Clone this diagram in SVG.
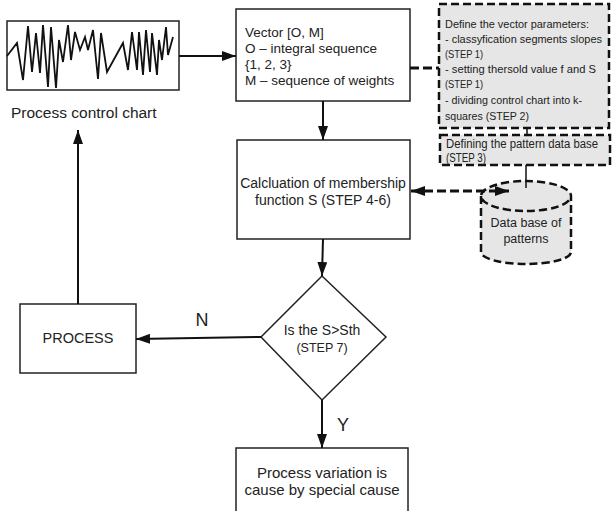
<svg xmlns="http://www.w3.org/2000/svg" width="612" height="511" viewBox="0 0 612 511">
<defs>
<marker id="ahs" markerWidth="14" markerHeight="10" viewBox="0 0 14 10" refX="14" refY="5" orient="auto-start-reverse" markerUnits="userSpaceOnUse">
<path d="M0,0 L14,5 L0,10 z" fill="#111"/>
</marker>
<style>
.box{fill:#fff;stroke:#222;stroke-width:1.5}
.dbox{fill:#e6e6e6;stroke:#111;stroke-width:2.5;stroke-dasharray:8,4}
.t{font-family:"Liberation Sans",Arial,sans-serif;fill:#222}
.ln{fill:none;stroke:#111;stroke-width:2}
</style>
</defs>
<g id="chart">
<rect x="7" y="21" width="172" height="69" class="box"/>
<polyline fill="none" stroke="#111" stroke-width="1.8" points="7,56 17,43 23,80 28,26 32,72 36,33 40,73 43,25 48,87 51,27 56,88 59,40 63,62 68,25 71,60 75,32 80,50 85,37 88,50 93,30 98,79 101,33 107,72 123,43 128,70 132,32 137,70 139,32 143,75 146,30 150,72 152,33 157,75 159,40 162,60 166,27 168,55 173,37"/>
<text class="t" x="11" y="118" font-size="15.5">Process control chart</text>
</g>
<g id="vector">
<rect x="236" y="9" width="174" height="92" class="box"/>
<text class="t" font-size="13.5"><tspan x="245" y="37">Vector [O, M]</tspan><tspan x="245" y="53">O – integral sequence</tspan><tspan x="245" y="69">{1, 2, 3}</tspan><tspan x="245" y="85">M – sequence of weights</tspan></text>
</g>
<g id="define">
<rect x="439" y="4" width="170" height="124" class="dbox"/>
<g class="t" font-size="11.5">
<text x="445" y="28" textLength="144" lengthAdjust="spacingAndGlyphs">Define the vector parameters:</text>
<text x="445" y="43" textLength="157" lengthAdjust="spacingAndGlyphs">- classyfication segments slopes</text>
<text x="445" y="58" textLength="38" lengthAdjust="spacingAndGlyphs">(STEP 1)</text>
<text x="445" y="73" textLength="151" lengthAdjust="spacingAndGlyphs">- setting thersold value f and S</text>
<text x="445" y="88" textLength="38" lengthAdjust="spacingAndGlyphs">(STEP 1)</text>
<text x="445" y="104" textLength="137" lengthAdjust="spacingAndGlyphs">- dividing control chart into k-</text>
<text x="445" y="120" textLength="84" lengthAdjust="spacingAndGlyphs">squares (STEP 2)</text>
</g>
</g>
<g id="patterndb">
<rect x="440" y="135" width="170" height="30" class="dbox"/>
<g class="t" font-size="12.5">
<text x="446" y="148" textLength="152" lengthAdjust="spacingAndGlyphs">Defining the pattern data base</text>
<text x="446" y="162" textLength="40" lengthAdjust="spacingAndGlyphs">(STEP 3)</text>
</g>
</g>
<g id="database">
<path d="M481,196 L481,252 A45,12 0 0 0 571,252 L571,196 A45,15 0 0 0 481,196 A45,15 0 0 0 571,196" class="dbox"/>
<text class="t" font-size="12.5" text-anchor="middle"><tspan x="526" y="227">Data base of</tspan><tspan x="526" y="243">patterns</tspan></text>
</g>
<g id="calc">
<rect x="237" y="140" width="173" height="99" class="box"/>
<text class="t" font-size="14" text-anchor="middle"><tspan x="323" y="188">Calcluation of membership</tspan><tspan x="323" y="205">function S  (STEP 4-6)</tspan></text>
</g>
<g id="decision">
<polygon points="322,276 386,337 322,400 261,337" class="box" stroke-width="1.2"/>
<text class="t" font-size="14" text-anchor="middle"><tspan x="322" y="335">Is the S&gt;Sth</tspan><tspan x="322" y="352" font-size="12.5">(STEP 7)</tspan></text>
</g>
<g id="process">
<rect x="20" y="304" width="116" height="69" class="box"/>
<text class="t" x="78" y="343" font-size="14.5" text-anchor="middle">PROCESS</text>
</g>
<g id="result">
<rect x="236" y="448" width="172" height="70" class="box"/>
<text class="t" font-size="15" text-anchor="middle"><tspan x="322" y="478">Process variation is</tspan><tspan x="322" y="495">cause by special cause</tspan></text>
</g>
<g id="connectors">
<line x1="179" y1="56" x2="236" y2="56" class="ln" marker-end="url(#ahs)"/>
<line x1="323" y1="101" x2="323" y2="140" class="ln" marker-end="url(#ahs)"/>
<line x1="410" y1="68" x2="439" y2="68" stroke="#111" stroke-width="3" stroke-dasharray="9,4"/>
<line x1="527" y1="128" x2="527" y2="135" stroke="#111" stroke-width="1.5"/>
<line x1="526" y1="165" x2="526" y2="188" stroke="#111" stroke-width="1.5"/>
<line x1="411" y1="191" x2="509" y2="191" stroke="#111" stroke-width="3" stroke-dasharray="9,4" marker-start="url(#ahs)" marker-end="url(#ahs)"/>
<line x1="323" y1="239" x2="322" y2="276" class="ln" marker-end="url(#ahs)"/>
<line x1="261" y1="337" x2="136" y2="339" class="ln" marker-end="url(#ahs)"/>
<line x1="78" y1="304" x2="78" y2="130" class="ln" marker-end="url(#ahs)"/>
<line x1="322" y1="400" x2="322" y2="448" class="ln" marker-end="url(#ahs)"/>
<text class="t" x="202" y="326" font-size="18" text-anchor="middle">N</text>
<text class="t" x="343" y="431" font-size="18" text-anchor="middle">Y</text>
</g>
</svg>
